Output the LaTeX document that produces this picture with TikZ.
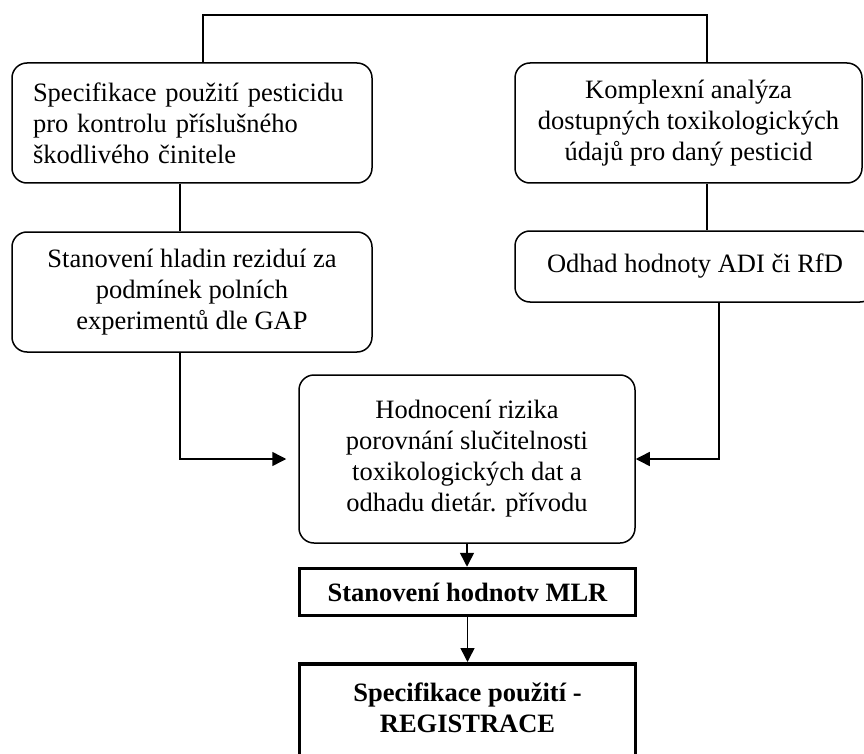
\documentclass[tikz,border=0pt]{standalone}
\usepackage{fontspec}
\setmainfont{Liberation Serif}
\usetikzlibrary{arrows.meta,calc}
\begin{document}
\begin{tikzpicture}[x=1pt,y=-1pt,
  rbox/.style={draw, line width=1.5pt, rounded corners=15pt, inner sep=0pt, align=center, font=\fontsize{26.5}{31}\selectfont},
  boldbox/.style={draw, line width=3.5pt, inner sep=0pt, align=center, font=\fontsize{26.5}{31}\selectfont\bfseries},
  conn/.style={line width=1.5pt},
  arr/.style={conn, -{Triangle[length=14pt,width=14pt]}}]
\useasboundingbox (0,0) rectangle (864,754);
\clip (0,0) rectangle (864,754);
\node[rbox, minimum width=360pt, minimum height=120pt, text width=318pt, align=left] (A) at (192,123) {Specifikace použití pesticidu\\pro kontrolu příslušného\\škodlivého činitele};
\node[rbox, minimum width=347pt, minimum height=120pt] (B) at (688.5,123) {Komplexní analýza\\dostupných toxikologických\\údajů pro daný pesticid};
\node[rbox, minimum width=360pt, minimum height=120pt] (C) at (192,292) {Stanovení hladin reziduí za\\podmínek polních\\experimentů dle GAP};
\node[rbox, minimum width=360pt, minimum height=71pt] (D) at (695,266.5) {Odhad hodnoty ADI či RfD};
\node[rbox, minimum width=336pt, minimum height=168pt] (E) at (467,459) {Hodnocení rizika\\porovnání slučitelnosti\\toxikologických dat a\\odhadu dietár. přívodu};
\node[boldbox, minimum width=336pt, minimum height=47pt] (M) at (467.5,592) {Stanovení hodnotv MLR};
\node[boldbox, anchor=north, minimum width=336pt] (R) at (467.5,662) {\parbox[t][130pt][t]{320pt}{\centering\vspace{19pt}Specifikace použití -\\REGISTRACE}};
\coordinate (t1) at (203,15);
\coordinate (t2) at (707,15);
\coordinate (c1) at (180,0);
\coordinate (c3) at (719,0);
\draw[conn] (A.north -| t1) |- (t2) -- (B.north -| t2);
\draw[conn] (A.south -| c1) -- (C.north -| c1);
\draw[conn] (B.south -| t2) -- (D.north -| t2);
\draw[arr] (C.south -| c1) |- ([xshift=-12pt]E.west);
\draw[arr] (D.south -| c3) |- (E.east);
\draw[arr] (E.south) -- (E.south |- M.north);
\draw[arr] (M.south) -- (M.south |- R.north);
\end{tikzpicture}
\end{document}
